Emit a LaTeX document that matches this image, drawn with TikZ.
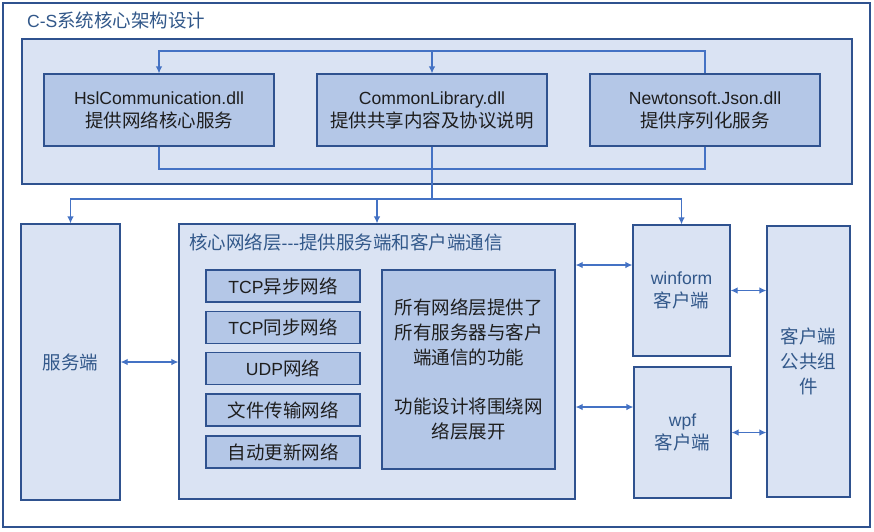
\documentclass[tikz,border=0pt]{standalone}
\usepackage{fontspec}
\setmainfont{Noto Sans CJK SC}
\newfontfamily\lat{Liberation Sans}[Scale=0.95]
\usetikzlibrary{arrows.meta}
\definecolor{framec}{RGB}{47,82,143}
\definecolor{lightfill}{RGB}{218,227,243}
\definecolor{darkfill}{RGB}{180,199,231}
\definecolor{connc}{RGB}{68,114,196}
\definecolor{bluetext}{RGB}{50,88,138}
\definecolor{darktext}{RGB}{30,30,30}
\begin{document}
\begin{tikzpicture}[x=1pt,y=-1pt,
  every node/.style={font=\fontsize{18.5}{23}\selectfont, inner sep=0pt},
  boxc/.style={draw=framec, line width=1.2pt, align=center},
  lbox/.style={boxc, fill=lightfill, text=bluetext},
  dbox/.style={boxc, fill=darkfill, text=darktext},
  wire/.style={draw=connc, line width=1.2pt},
  arr/.style={wire, -{Latex[length=7pt,width=6.5pt]}},
  darr/.style={wire, {Latex[length=7pt,width=6.5pt]}-{Latex[length=7pt,width=6.5pt]}}
]
\useasboundingbox (0,0) rectangle (874,531);
\node[draw=framec, line width=1.2pt, fill=white, minimum width=867pt, minimum height=524pt] (outer) at (436.5,265) {};
\node[anchor=west, text=bluetext] (title) at (27,20) {{\lat C-S}系统核心架构设计};

\node[lbox, minimum width=830pt, minimum height=145pt] (top) at (437,111.5) {};
\node[dbox, minimum width=230pt, minimum height=72pt] (hsl) at (159,110) {{\lat HslCommunication.dll}\\提供网络核心服务};
\node[dbox, minimum width=230pt, minimum height=72pt] (common) at (432,110) {{\lat CommonLibrary.dll}\\提供共享内容及协议说明};
\node[dbox, minimum width=230pt, minimum height=72pt] (newton) at (705,110) {{\lat Newtonsoft.Json.dll}\\提供序列化服务};

\coordinate (topbus) at (432,51);
\coordinate (botbus) at (432,169);
\coordinate (distbus) at (432,199);
\draw[wire] (newton.north) |- (topbus);
\draw[arr] (topbus) -| (hsl.north);
\draw[arr] (topbus) -- (common.north);
\draw[wire] (hsl.south) |- (botbus);
\draw[wire] (newton.south) |- (botbus);
\draw[wire] (common.south) -- (distbus);

\node[lbox, minimum width=99pt, minimum height=276pt] (server) at (70.5,362) {服务端};
\node[lbox, minimum width=396pt, minimum height=275pt] (core) at (377,361.5) {};
\node[anchor=west, text=bluetext] (coretitle) at (189,242) {核心网络层{\lat -{}-{}-}提供服务端和客户端通信};
\node[dbox, minimum width=154pt, minimum height=32pt] (n1) at (283,286) {{\lat TCP}异步网络};
\node[dbox, minimum width=154pt, minimum height=32pt] (n2) at (283,327.5) {{\lat TCP}同步网络};
\node[dbox, minimum width=154pt, minimum height=32pt] (n3) at (283,368.5) {{\lat UDP}网络};
\node[dbox, minimum width=154pt, minimum height=32pt] (n4) at (283,410) {文件传输网络};
\node[dbox, minimum width=154pt, minimum height=32pt] (n5) at (283,452) {自动更新网络};
\node[dbox, minimum width=173pt, minimum height=199pt, font=\fontsize{18.5}{25}\selectfont] (desc) at (468.5,369.5) {所有网络层提供了\\所有服务器与客户\\端通信的功能\\[24pt]功能设计将围绕网\\络层展开};

\node[lbox, minimum width=97pt, minimum height=131pt] (winform) at (681.5,290.5) {{\lat winform}\\客户端};
\node[lbox, minimum width=97pt, minimum height=131pt] (wpf) at (682.5,432.5) {{\lat wpf}\\客户端};
\node[lbox, minimum width=83pt, minimum height=271pt, font=\fontsize{18.5}{25}\selectfont] (pub) at (808.5,361.5) {客户端\\公共组\\件};

\draw[arr] (distbus) -| (server.north);
\draw[arr] (distbus) -| (core.north);
\draw[arr] (distbus) -| (winform.north);

\draw[darr] (server.east) -- (server.east -| core.west);
\draw[darr] ([yshift=25.5pt]winform.west -| core.east) -- ([yshift=25.5pt]winform.west);
\draw[darr] ([yshift=25.5pt]wpf.west -| core.east) -- ([yshift=25.5pt]wpf.west);
\draw[darr] (winform.east) -- (winform.east -| pub.west);
\draw[darr] (wpf.east) -- (wpf.east -| pub.west);
\end{tikzpicture}
\end{document}
